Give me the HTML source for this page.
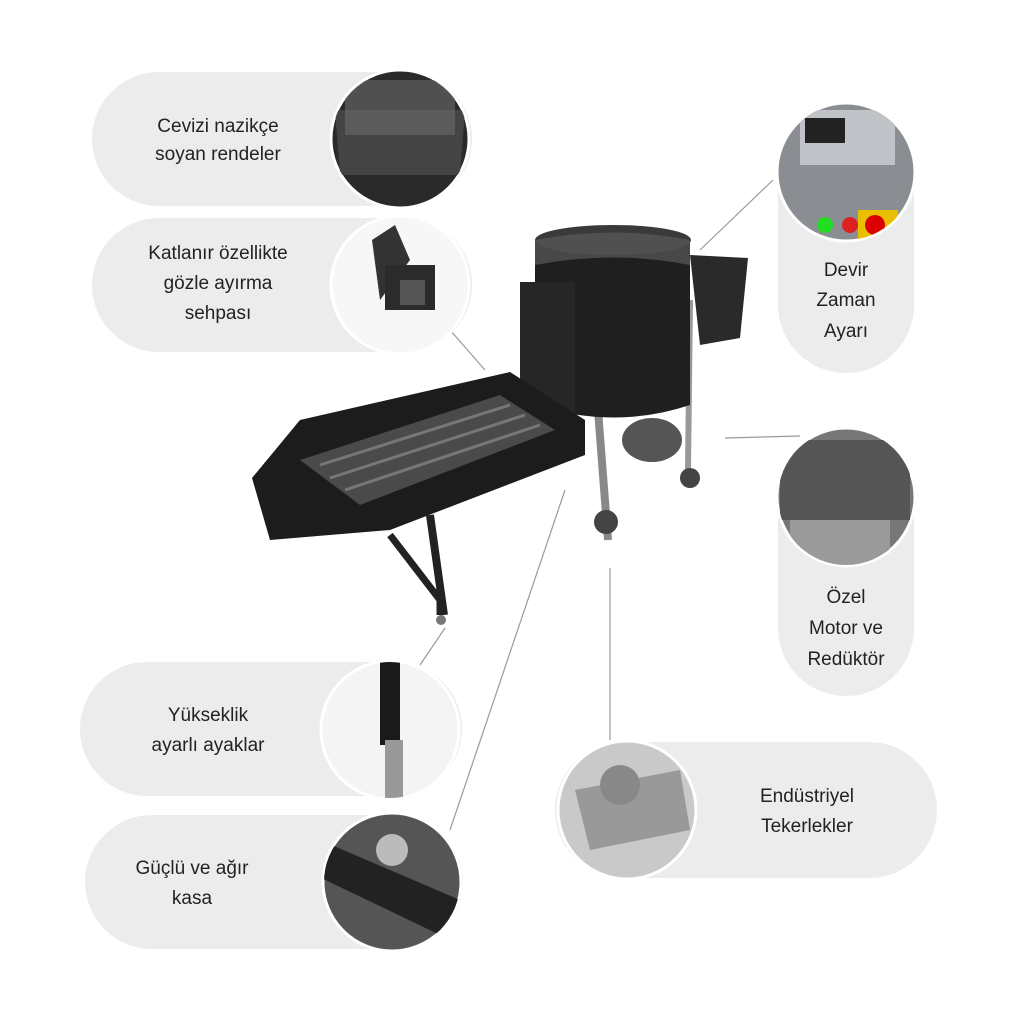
<!DOCTYPE html>
<html><head><meta charset="utf-8"><style>
html,body{margin:0;padding:0;background:#fff;}
svg{display:block}
text{font-family:"Liberation Sans",sans-serif;font-size:19px;fill:#222;text-anchor:middle}
</style></head><body>
<svg width="1024" height="1024" viewBox="0 0 1024 1024">
<defs>
<clipPath id="c1"><circle cx="400" cy="139" r="68"/></clipPath>
<clipPath id="c2"><circle cx="400" cy="285" r="68"/></clipPath>
<clipPath id="c3"><circle cx="846" cy="172" r="68"/></clipPath>
<clipPath id="c4"><circle cx="846" cy="497" r="68"/></clipPath>
<clipPath id="c5"><circle cx="627" cy="810" r="68"/></clipPath>
<clipPath id="c6"><circle cx="390" cy="730" r="68"/></clipPath>
<clipPath id="c7"><circle cx="392" cy="882" r="68"/></clipPath>
</defs>
<rect width="1024" height="1024" fill="#fff"/>
<g stroke="#9a9a9a" stroke-width="1.2" fill="none">
<line x1="773" y1="180" x2="700" y2="250"/>
<line x1="450" y1="330" x2="485" y2="370"/>
<line x1="725" y1="438" x2="800" y2="436"/>
<line x1="610" y1="568" x2="610" y2="740"/>
<line x1="565" y1="490" x2="450" y2="830"/>
<line x1="445" y1="628" x2="420" y2="665"/>
</g>
<g fill="#ececec">
<rect x="92" y="72" width="380" height="134" rx="67"/>
<rect x="92" y="218" width="380" height="134" rx="67"/>
<rect x="778" y="105" width="136" height="268" rx="68"/>
<rect x="778" y="430" width="136" height="266" rx="68"/>
<rect x="555" y="742" width="382" height="136" rx="68"/>
<rect x="80" y="662" width="382" height="134" rx="67"/>
<rect x="85" y="815" width="378" height="134" rx="67"/>
</g>
<text x="218" y="132">Cevizi nazikçe</text>
<text x="218" y="160">soyan rendeler</text>
<text x="218" y="259">Katlanır özellikte</text>
<text x="218" y="289">gözle ayırma</text>
<text x="218" y="319">sehpası</text>
<text x="846" y="276">Devir</text>
<text x="846" y="306">Zaman</text>
<text x="846" y="337">Ayarı</text>
<text x="846" y="603">Özel</text>
<text x="846" y="634">Motor ve</text>
<text x="846" y="665">Redüktör</text>
<text x="807" y="802">Endüstriyel</text>
<text x="807" y="832">Tekerlekler</text>
<text x="208" y="721">Yükseklik</text>
<text x="208" y="751">ayarlı ayaklar</text>
<text x="192" y="874">Güçlü ve ağır</text>
<text x="192" y="904">kasa</text>
<g stroke="#fff" stroke-width="3">
<circle cx="400" cy="139" r="69" fill="#2a2a2a"/>
<circle cx="400" cy="285" r="69" fill="#f7f7f7"/>
<circle cx="846" cy="172" r="69" fill="#8a8d92"/>
<circle cx="846" cy="497" r="69" fill="#777"/>
<circle cx="627" cy="810" r="69" fill="#c9c9c9"/>
<circle cx="390" cy="730" r="69" fill="#f4f4f4"/>
<circle cx="392" cy="882" r="69" fill="#555"/>
</g>
<g clip-path="url(#c1)">
<path d="M335 110 L465 110 L460 175 L340 175Z" fill="#444"/>
<path d="M345 80 L455 80 L455 135 L345 135Z" fill="#6a6a6a" opacity=".6"/>
</g>
<g clip-path="url(#c2)">
<path d="M372 240 L395 225 L410 260 L380 300Z" fill="#333"/>
<rect x="385" y="265" width="50" height="45" fill="#2b2b2b"/>
<rect x="400" y="280" width="25" height="25" fill="#555"/>
</g>
<g clip-path="url(#c3)">
<rect x="800" y="110" width="95" height="55" fill="#bfc3c7"/>
<rect x="805" y="118" width="40" height="25" fill="#222"/>
<circle cx="825" cy="225" r="8" fill="#2d2"/><circle cx="850" cy="225" r="8" fill="#d22"/>
<rect x="858" y="210" width="40" height="30" fill="#e8c000"/>
<circle cx="875" cy="225" r="10" fill="#d00"/>
</g>
<g clip-path="url(#c4)">
<rect x="780" y="440" width="130" height="80" fill="#555"/>
<rect x="790" y="520" width="100" height="50" fill="#9a9a9a"/>
</g>
<g clip-path="url(#c5)">
<path d="M575 790 L680 770 L690 830 L590 850Z" fill="#999"/>
<circle cx="620" cy="785" r="20" fill="#888"/>
</g>
<g clip-path="url(#c6)">
<rect x="380" y="660" width="20" height="85" fill="#1a1a1a"/>
<rect x="385" y="740" width="18" height="60" fill="#999"/>
</g>
<g clip-path="url(#c7)">
<path d="M320 840 L460 900 L440 935 L315 875Z" fill="#222"/>
<circle cx="392" cy="850" r="16" fill="#bbb"/>
</g>
<g>
<path d="M598 410 L608 540" stroke="#888" stroke-width="8"/>
<path d="M690 300 L688 470" stroke="#999" stroke-width="6"/>
<circle cx="606" cy="522" r="12" fill="#444"/>
<circle cx="690" cy="478" r="10" fill="#444"/>
<path d="M535 240 L535 405 Q615 430 690 405 L690 240Z" fill="#1f1f1f"/>
<ellipse cx="613" cy="240" rx="78" ry="15" fill="#3a3a3a"/>
<path d="M535 240 Q613 225 690 240 L690 265 Q613 250 535 265Z" fill="#5a5a5a" opacity=".7"/>
<rect x="520" y="282" width="55" height="130" fill="#262626"/>
<path d="M690 255 L748 258 L740 338 L700 345Z" fill="#2a2a2a"/>
<ellipse cx="652" cy="440" rx="30" ry="22" fill="#555"/>
<path d="M252 478 L300 420 L510 372 L585 420 L585 455 L390 530 L270 540Z" fill="#1c1c1c"/>
<path d="M300 460 L500 395 L555 430 L360 505Z" fill="#4a4a4a"/>
<path d="M320 465 L510 405 M330 478 L525 415 M345 490 L540 425" stroke="#777" stroke-width="3"/>
<path d="M390 535 L440 600 L440 615" stroke="#222" stroke-width="7" fill="none"/>
<path d="M430 515 L444 615" stroke="#222" stroke-width="8"/>
<circle cx="441" cy="620" r="5" fill="#777"/>
</g>
</svg>
</body></html>
